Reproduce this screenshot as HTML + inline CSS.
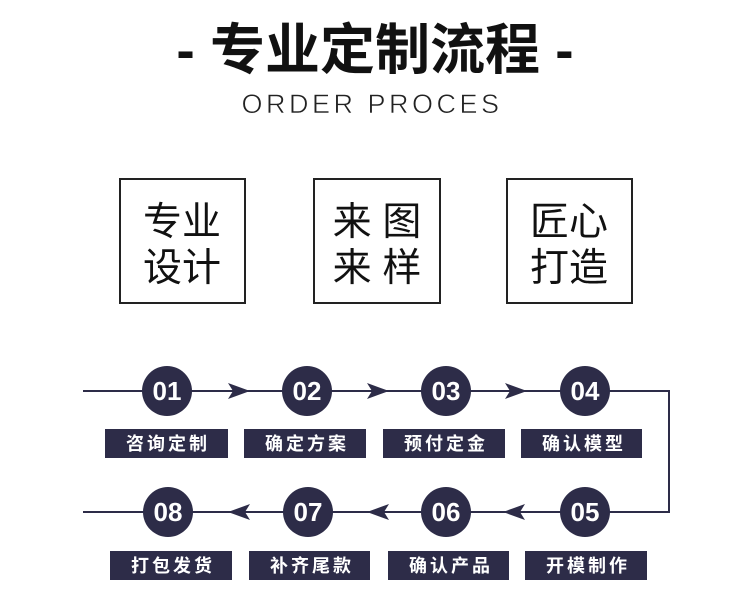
<!DOCTYPE html>
<html><head><meta charset="utf-8"><style>
html,body{margin:0;padding:0;background:#fff;}
svg{display:block;}
</style></head><body>
<svg width="750" height="600" viewBox="0 0 750 600" xmlns="http://www.w3.org/2000/svg">
<text x="375" y="69" text-anchor="middle" font-family="'Liberation Sans','Noto Sans CJK SC',sans-serif" font-weight="bold" font-size="55" fill="#111">- 专业定制流程 -</text>
<text x="372" y="113" text-anchor="middle" font-family="'Liberation Sans',sans-serif" font-size="27" letter-spacing="3.5" fill="#222" stroke="#fff" stroke-width="0.6">ORDER PROCES</text>

<g fill="none" stroke="#222" stroke-width="2">
<rect x="120" y="179" width="125" height="124"/>
<rect x="314" y="179" width="126" height="124"/>
<rect x="507" y="179" width="125" height="124"/>
</g>
<g font-family="'Liberation Sans','Noto Sans CJK SC',sans-serif" font-size="39" fill="#111" text-anchor="middle">
<text x="182" y="235">专业</text><text x="182" y="281">设计</text>
<text x="377" y="235">来 图</text><text x="377" y="281">来 样</text>
<text x="569" y="235">匠心</text><text x="569" y="281">打造</text>
</g>

<g stroke="#2d2c48" stroke-width="2" fill="none">
<line x1="83" y1="391" x2="669" y2="391"/>
<line x1="669" y1="390" x2="669" y2="513"/>
<line x1="83" y1="512" x2="669" y2="512"/>
</g>
<g fill="#2d2c48">
<path d="M228 383 L250 391 L228 399 L233 391Z"/>
<path d="M367 383 L389 391 L367 399 L372 391Z"/>
<path d="M505 383 L527 391 L505 399 L510 391Z"/>
<path d="M250 504 L228 512 L250 520 L245 512Z"/>
<path d="M389 504 L367 512 L389 520 L384 512Z"/>
<path d="M525 504 L503 512 L525 520 L520 512Z"/>
<circle cx="167" cy="391" r="25"/><circle cx="307" cy="391" r="25"/><circle cx="446" cy="391" r="25"/><circle cx="585" cy="391" r="25"/>
<circle cx="168" cy="512" r="25"/><circle cx="308" cy="512" r="25"/><circle cx="446" cy="512" r="25"/><circle cx="585" cy="512" r="25"/>
<rect x="105" y="429" width="123" height="29"/><rect x="244" y="429" width="122" height="29"/><rect x="383" y="429" width="122" height="29"/><rect x="521" y="429" width="121" height="29"/>
<rect x="110" y="551" width="122" height="29"/><rect x="249" y="551" width="121" height="29"/><rect x="388" y="551" width="121" height="29"/><rect x="525" y="551" width="122" height="29"/>
</g>
<g font-family="'Liberation Sans',sans-serif" font-weight="bold" font-size="26" fill="#fff" text-anchor="middle">
<text x="167" y="400">01</text><text x="307" y="400">02</text><text x="446" y="400">03</text><text x="585" y="400">04</text>
<text x="168" y="521">08</text><text x="308" y="521">07</text><text x="446" y="521">06</text><text x="585" y="521">05</text>
</g>
<g font-family="'Liberation Sans','Noto Sans CJK SC',sans-serif" font-weight="bold" font-size="18" fill="#fff" text-anchor="middle" letter-spacing="3">
<text x="168" y="450">咨询定制</text><text x="307" y="450">确定方案</text><text x="446" y="450">预付定金</text><text x="584" y="450">确认模型</text>
<text x="173" y="572">打包发货</text><text x="312" y="572">补齐尾款</text><text x="451" y="572">确认产品</text><text x="588" y="572">开模制作</text>
</g>
</svg>
</body></html>
